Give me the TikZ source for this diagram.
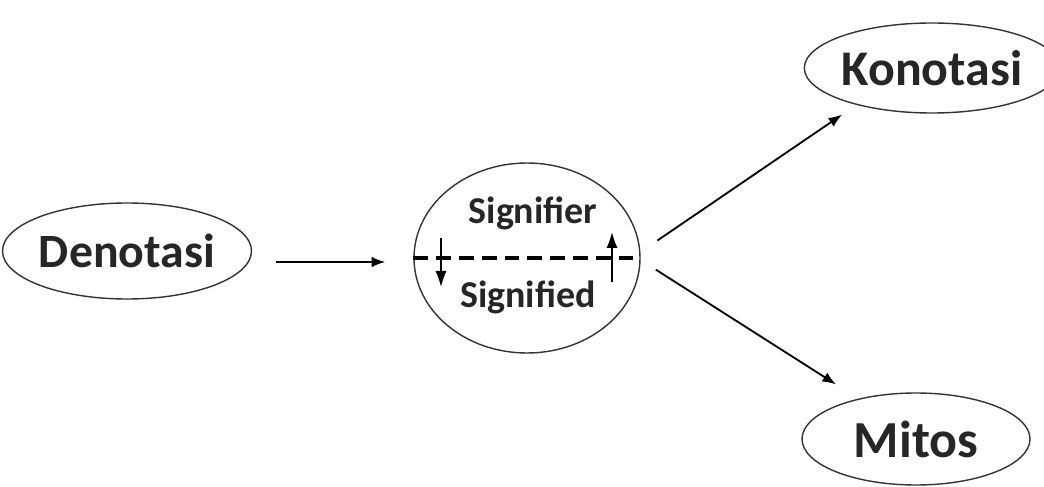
\documentclass[tikz,border=0pt]{standalone}
\usepackage{fontspec}
\setmainfont{Carlito}
\usepackage{tikz}
\usetikzlibrary{arrows.meta,shapes.geometric}

\tikzset{
  elips/.style={draw=black!80, line width=1pt, ellipse, inner sep=0pt, font=\fontsize{34}{40}\selectfont\bfseries, text=black!85},
  panah/.style={line width=1.3pt, -{Latex[length=0.34cm,width=0.26cm]}},
  kecil/.style={line width=1.2pt, -{Latex[length=0.4cm,width=0.28cm]}}
}

\begin{document}
\begin{tikzpicture}
  \useasboundingbox (0,0) rectangle (26.1,12.15);

  \node[elips, minimum width=5.6cm, minimum height=2.4cm] (denotasi) at (3.175,5.875) {Denotasi};
  \node[elips, minimum width=5.65cm, minimum height=4.75cm] (tanda) at (13.175,5.7) {};
  \node[elips, minimum width=5.5cm, minimum height=2.25cm, font=\fontsize{35.5}{40}\selectfont\bfseries] (konotasi) at (23.3,10.45) {Konotasi};
  \node[elips, minimum width=5.7cm, minimum height=2.3cm, font=\fontsize{37}{42}\selectfont\bfseries] (mitos) at (22.9,1.175) {Mitos};

  \node[font=\fontsize{27}{32}\selectfont\bfseries, text=black!85] (penanda) at (13.325,6.825) {Signifier};
  \node[font=\fontsize{27}{32}\selectfont\bfseries, text=black!85] (petanda) at (13.2,4.725) {Signified};

  \draw[line width=2.2pt, dash pattern=on 0.37cm off 0.2cm] (tanda.west) -- (tanda.east);

  \coordinate (turun) at (11.025,6.2);
  \coordinate (naik) at (15.3,5.1);
  \draw[kecil] (turun) -- ++(0,-1.225);
  \draw[kecil] (naik) -- ++(0,1.25);

  \draw[panah, shorten <=0.6cm, shorten >=0.7cm] ([yshift=-2.75mm]denotasi.east) -- ([yshift=-1mm]tanda.west);
  \draw[panah, shorten <=0.51cm, shorten >=0.43cm] (tanda.3) -- (konotasi.206);
  \draw[panah, shorten <=0.45cm, shorten >=0.66cm] (tanda.-1) -- (mitos.145);
\end{tikzpicture}
\end{document}
